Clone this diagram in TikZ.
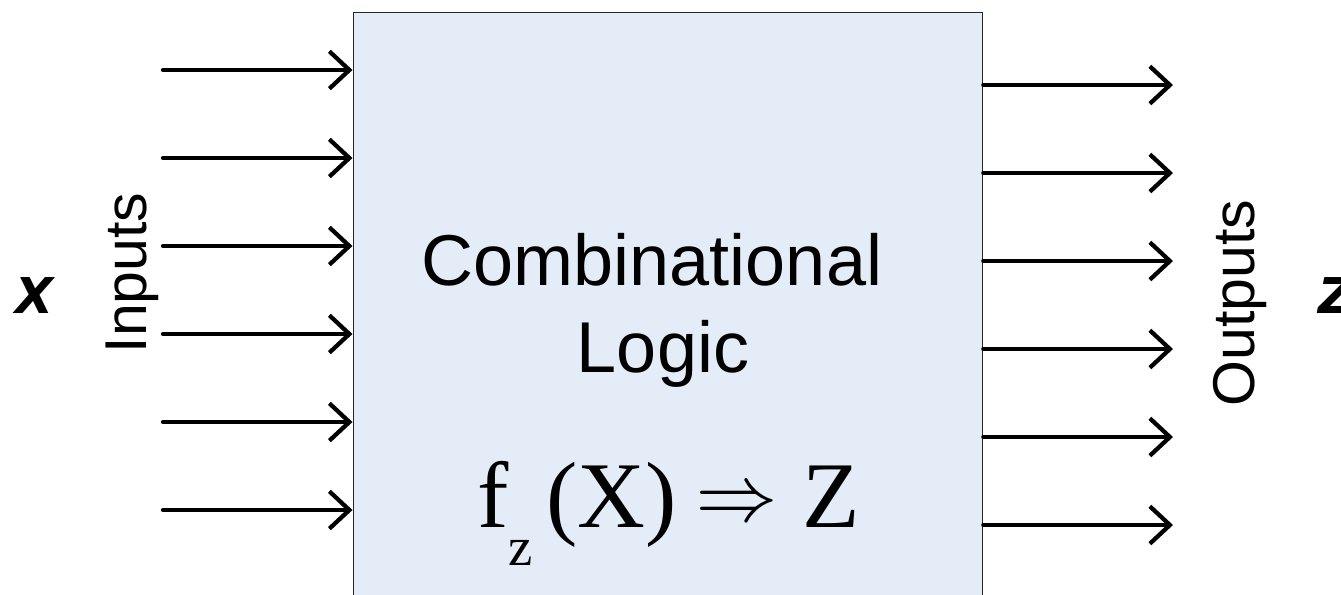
\documentclass[tikz,border=0pt]{standalone}
\usepackage{fontspec}
\setmainfont{Liberation Sans}
\newfontfamily\timesfont{Liberation Serif}
\newfontfamily\varfont{DejaVu Sans}
\newfontfamily\arrowfont{latinmodern-math.otf}
\usetikzlibrary{arrows.meta}
\definecolor{logicfill}{HTML}{E4ECF7}

\tikzset{every picture/.style={line width=0.75pt},
  logicbox/.style={draw=black!85, line width=1.1pt, fill=logicfill, anchor=north west, minimum width=472pt, minimum height=471pt, inner sep=0pt},
  sig/.style={line width=3.2pt, line cap=round, -{Straight Barb[length=15pt,width=28pt]}},
  sidelbl/.style={rotate=90, anchor=base, font=\fontsize{44.25}{50}\selectfont},
  varlbl/.style={anchor=base, font=\varfont\bfseries\itshape\fontsize{37}{44}\selectfont},
  boxlbl/.style={anchor=base, font=\fontsize{54}{60}\selectfont}}

\begin{document}
\begin{tikzpicture}[x=0.75pt,y=0.75pt,yscale=-1,xscale=1]
\clip (0,0) rectangle (1341,594);

%Shape: Rectangle
\node[logicbox] (logic) at (352.5,12) {};

%Straight Lines: inputs
\coordinate (x1) at (163,70);
\coordinate (x2) at (163,158);
\coordinate (x3) at (163,246);
\coordinate (x4) at (163,334);
\coordinate (x5) at (163,422);
\coordinate (x6) at (163,510);
\draw [sig] (x1) -- (x1 -| logic.west) ;
\draw [sig] (x2) -- (x2 -| logic.west) ;
\draw [sig] (x3) -- (x3 -| logic.west) ;
\draw [sig] (x4) -- (x4 -| logic.west) ;
\draw [sig] (x5) -- (x5 -| logic.west) ;
\draw [sig] (x6) -- (x6 -| logic.west) ;

%Straight Lines: outputs
\coordinate (z1) at (1173,85);
\coordinate (z2) at (1173,173);
\coordinate (z3) at (1173,261);
\coordinate (z4) at (1173,349);
\coordinate (z5) at (1173,437);
\coordinate (z6) at (1173,525);
\draw [sig] (z1 -| logic.east) -- (z1) ;
\draw [sig] (z2 -| logic.east) -- (z2) ;
\draw [sig] (z3 -| logic.east) -- (z3) ;
\draw [sig] (z4 -| logic.east) -- (z4) ;
\draw [sig] (z5 -| logic.east) -- (z5) ;
\draw [sig] (z6 -| logic.east) -- (z6) ;

% Text Node
\node [sidelbl] (inputs) at (146,273) {Inputs};
% Text Node
\node [sidelbl] (outputs) at (1254,303) {Outputs};
% Text Node
\node [varlbl] (xvar) at (35,313) {X};
% Text Node
\node [varlbl] (zvar) at (1336,313) {Z};
% Text Node
\node [boxlbl] (comb) at (652,285) {Combinational};
% Text Node
\node [boxlbl] (logictxt) at (663,372) {Logic};
% Text Node
\node [anchor=base west, inner sep=0pt, font=\timesfont\fontsize{70.5}{80}\selectfont] (fz) at (477,527)
  {f\raisebox{-28.5pt}{\fontsize{41}{41}\selectfont z}\hspace{10pt}(X)\hspace{14pt}\raisebox{4pt}{\arrowfont\fontsize{62}{62}\selectfont ⇒}\hspace{18pt}Z};

\end{tikzpicture}
\end{document}
